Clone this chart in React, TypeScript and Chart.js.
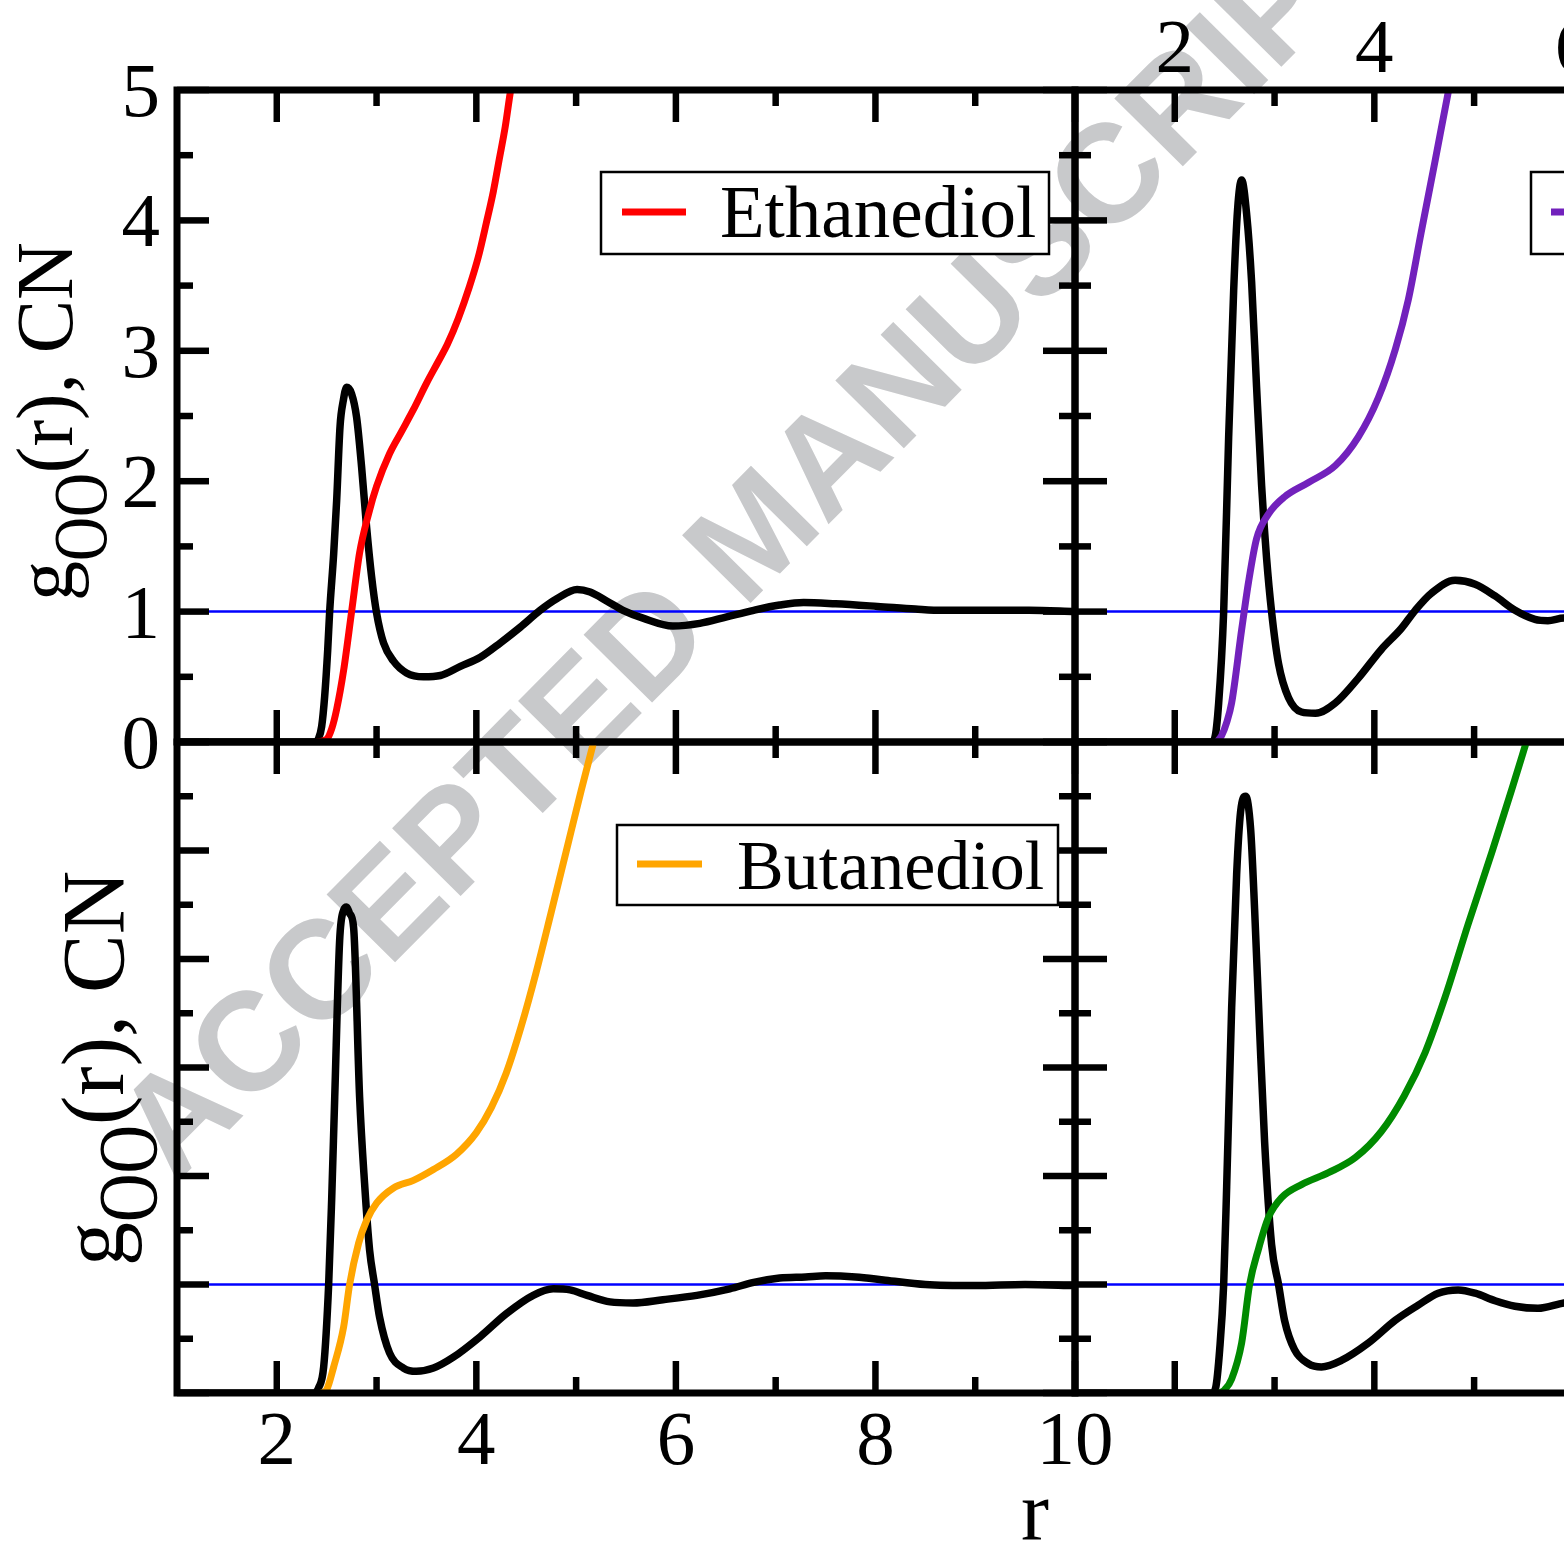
import React, { useEffect, useRef } from "react";
import { Chart, registerables } from "chart.js";

Chart.register(...registerables);

// ---------------- data ----------------
// Ethanediol (top-left)
const ETH_G_R = [1.0, 2.38, 2.42, 2.45, 2.48, 2.51, 2.53, 2.57, 2.6, 2.634, 2.667, 2.7, 2.75, 2.8, 2.85, 2.9, 2.95, 3.0, 3.07, 3.17, 3.3, 3.47, 3.64, 3.84, 4.04, 4.24, 4.44, 4.64, 4.81, 5.01, 5.14, 5.31, 5.47, 5.67, 5.97, 6.24, 6.51, 6.78, 7.04, 7.28, 7.6, 8.02, 8.4, 8.67, 9.1, 9.54, 10.0];
const ETH_G_V = [0, 0, 0.03, 0.12, 0.35, 0.7, 1.0, 1.44, 1.85, 2.42, 2.62, 2.72, 2.67, 2.49, 2.11, 1.65, 1.27, 0.99, 0.76, 0.62, 0.53, 0.5, 0.51, 0.58, 0.65, 0.76, 0.88, 1.01, 1.1, 1.17, 1.15, 1.08, 1.01, 0.95, 0.89, 0.91, 0.96, 1.01, 1.05, 1.07, 1.06, 1.04, 1.02, 1.01, 1.01, 1.01, 1.0];
const ETH_CN_R = [2.4, 2.5, 2.55, 2.6, 2.67, 2.75, 2.83, 2.92, 3.0, 3.13, 3.25, 3.37, 3.5, 3.62, 3.71, 3.82, 3.93, 4.02, 4.1, 4.17, 4.23, 4.29, 4.34, 4.4];
const ETH_CN_V = [0, 0.02, 0.1, 0.25, 0.55, 1.0, 1.45, 1.75, 1.96, 2.21, 2.38, 2.55, 2.75, 2.92, 3.05, 3.25, 3.49, 3.72, 3.98, 4.22, 4.47, 4.72, 4.98, 5.25];

// Propanediol (top-right)
const PRO_G_R = [1.0, 2.36, 2.4, 2.44, 2.49, 2.54, 2.59, 2.63, 2.67, 2.72, 2.77, 2.82, 2.87, 2.92, 2.97, 3.04, 3.14, 3.27, 3.41, 3.61, 3.84, 4.07, 4.27, 4.41, 4.57, 4.81, 5.01, 5.21, 5.41, 5.61, 5.74, 5.9, 6.0];
const PRO_G_V = [0, 0, 0.03, 0.3, 1.0, 2.34, 3.46, 4.09, 4.31, 4.05, 3.53, 2.72, 1.97, 1.41, 1.0, 0.6, 0.34, 0.23, 0.22, 0.3, 0.49, 0.71, 0.87, 1.01, 1.14, 1.24, 1.21, 1.12, 1.01, 0.94, 0.93, 0.95, 0.95];
const PRO_CN_R = [2.42, 2.47, 2.52, 2.57, 2.67, 2.74, 2.82, 2.94, 3.1, 3.34, 3.61, 3.84, 4.04, 4.21, 4.34, 4.47, 4.61, 4.74, 4.8];
const PRO_CN_V = [0, 0.05, 0.15, 0.3, 0.86, 1.23, 1.56, 1.75, 1.88, 1.99, 2.12, 2.34, 2.64, 3.01, 3.39, 3.91, 4.46, 4.98, 5.2];

// Butanediol (bottom-left)
const BUT_G_R = [1.0, 2.37, 2.42, 2.47, 2.52, 2.55, 2.58, 2.63, 2.67, 2.7, 2.73, 2.77, 2.83, 2.88, 2.93, 2.98, 3.03, 3.13, 3.27, 3.4, 3.57, 3.77, 4.04, 4.3, 4.57, 4.77, 4.94, 5.11, 5.34, 5.57, 5.87, 6.21, 6.54, 6.78, 7.04, 7.3, 7.5, 7.8, 8.1, 8.5, 9.0, 9.5, 10.0];
const BUT_G_V = [0, 0, 0.05, 0.24, 1.0, 1.78, 2.7, 4.17, 4.45, 4.48, 4.42, 4.29, 2.73, 1.93, 1.32, 1.0, 0.7, 0.37, 0.23, 0.2, 0.23, 0.33, 0.52, 0.73, 0.9, 0.96, 0.95, 0.9, 0.84, 0.83, 0.86, 0.9, 0.96, 1.02, 1.06, 1.07, 1.08, 1.07, 1.04, 1.0, 0.99, 1.0, 0.99];
const BUT_CN_R = [2.45, 2.5, 2.57, 2.67, 2.73, 2.82, 2.9, 3.0, 3.17, 3.37, 3.57, 3.8, 4.0, 4.15, 4.3, 4.45, 4.6, 4.75, 4.9, 5.05, 5.19];
const BUT_CN_V = [0, 0.03, 0.24, 0.61, 1.0, 1.38, 1.59, 1.75, 1.89, 1.96, 2.06, 2.2, 2.4, 2.63, 2.95, 3.38, 3.88, 4.43, 4.99, 5.55, 6.05];

// bottom-right
const PEN_G_R = [1.0, 2.37, 2.41, 2.45, 2.49, 2.52, 2.57, 2.62, 2.66, 2.71, 2.76, 2.8, 2.85, 2.9, 2.97, 3.04, 3.1, 3.2, 3.34, 3.47, 3.67, 3.94, 4.21, 4.44, 4.64, 4.84, 5.01, 5.21, 5.41, 5.64, 5.9, 6.0];
const PEN_G_V = [0, 0, 0.05, 0.4, 1.0, 1.9, 3.55, 4.78, 5.36, 5.5, 5.2, 4.46, 3.35, 2.32, 1.37, 1.0, 0.67, 0.4, 0.27, 0.24, 0.3, 0.46, 0.67, 0.81, 0.92, 0.95, 0.92, 0.85, 0.8, 0.78, 0.83, 0.84];
const PEN_CN_R = [2.45, 2.5, 2.57, 2.67, 2.75, 2.84, 2.94, 3.07, 3.27, 3.54, 3.81, 4.07, 4.3, 4.51, 4.71, 4.94, 5.18, 5.38, 5.53];
const PEN_CN_V = [0, 0.03, 0.13, 0.46, 1.0, 1.33, 1.62, 1.8, 1.92, 2.03, 2.17, 2.41, 2.74, 3.14, 3.65, 4.32, 4.99, 5.57, 6.02];

// reference line g = 1
const REF_R = [1, 10];
const REF_V = [1, 1];

// ticks
const X_MAJOR = [2, 4, 6, 8, 10];
const X_MINOR = [3, 5, 7, 9];
const Y_MAJOR_TOP = [0, 1, 2, 3, 4, 5];
const Y_MINOR_TOP = [0.5, 1.5, 2.5, 3.5, 4.5];
const Y_MAJOR_BOT = [0, 1, 2, 3, 4, 5, 6];
const Y_MINOR_BOT = [0.5, 1.5, 2.5, 3.5, 4.5, 5.5];
const X_TICK_LABELS = ["2", "4", "6", "8", "10"];
const Y_TICK_LABELS = ["0", "1", "2", "3", "4", "5"];

const WATERMARK = "ACCEPTED MANUSCRIPT";

// ---------------- drawing ----------------
const W = 2000;
const H = 1549;
const SERIF = '"Liberation Serif", "Times New Roman", serif';

const pts = (r: number[], v: number[]) => r.map((x, i) => ({ x, y: v[i] }));

const decoPlugin = {
  id: "deco",
  beforeDraw(chart: any, _a: any, o: any) {
    if (!o.watermark) return;
    const ctx = chart.ctx;
    ctx.save();
    ctx.translate(752, 530);
    ctx.rotate((-45.3 * Math.PI) / 180);
    ctx.font = 'bold 140px "Liberation Sans", Arial, sans-serif';
    ctx.fillStyle = "rgb(200,201,203)";
    ctx.textAlign = "center";
    ctx.textBaseline = "alphabetic";
    ctx.fillText(WATERMARK, 0, 0.36 * 140);
    ctx.restore();
  },
  afterDraw(chart: any, _a: any, o: any) {
    const ctx = chart.ctx;
    const ca = chart.chartArea;
    const xs = chart.scales.x;
    const ys = chart.scales.y;
    ctx.save();
    ctx.strokeStyle = "#000";
    ctx.fillStyle = "#000";
    ctx.lineCap = "butt";
    const seg = (x1: number, y1: number, x2: number, y2: number) => {
      ctx.beginPath();
      ctx.moveTo(x1, y1);
      ctx.lineTo(x2, y2);
      ctx.stroke();
    };
    ctx.lineWidth = 6.5;
    const xt = (vals: number[], len: number) => {
      for (const v of vals) {
        const p = xs.getPixelForValue(v);
        seg(p, ca.bottom, p, ca.bottom - len);
        seg(p, ca.top, p, ca.top + len);
      }
    };
    const yt = (vals: number[], len: number) => {
      for (const v of vals) {
        const p = ys.getPixelForValue(v);
        seg(ca.left, p, ca.left + len, p);
        seg(ca.right, p, ca.right - len, p);
      }
    };
    xt(X_MAJOR, 32);
    xt(X_MINOR, 16);
    yt(o.yMajor, 32);
    yt(o.yMinor, 16);
    // frame
    ctx.lineWidth = 7;
    ctx.strokeRect(ca.left, ca.top, ca.right - ca.left, ca.bottom - ca.top);

    // tick labels
    ctx.font = `77px ${SERIF}`;
    ctx.textBaseline = "alphabetic";
    if (o.yLabels) {
      ctx.textAlign = "right";
      Y_TICK_LABELS.forEach((t, i) => {
        const p = ys.getPixelForValue(Y_MAJOR_TOP[i]);
        ctx.fillText(t, ca.left - 17, p + 26);
      });
    }
    if (o.xTopLabels) {
      ctx.textAlign = "center";
      X_TICK_LABELS.forEach((t, i) => {
        ctx.fillText(t, xs.getPixelForValue(X_MAJOR[i]), ca.top - 18);
      });
    }
    if (o.xBottomLabels) {
      ctx.textAlign = "center";
      X_TICK_LABELS.forEach((t, i) => {
        ctx.fillText(t, xs.getPixelForValue(X_MAJOR[i]), ca.bottom + 71);
      });
    }
    if (o.xTitle) {
      ctx.font = `84px ${SERIF}`;
      ctx.textAlign = "center";
      ctx.fillText(o.xTitle.text, o.xTitle.x, o.xTitle.y);
    }
    // y title  g_OO(r), CN
    if (o.yTitle) {
      const t = o.yTitle;
      ctx.save();
      ctx.translate(t.x, t.y);
      ctx.rotate(-Math.PI / 2);
      ctx.textAlign = "left";
      ctx.font = `${t.size}px ${SERIF}`;
      ctx.fillText("g", 0, 0);
      let cx = ctx.measureText("g").width;
      ctx.save();
      ctx.font = `${t.sub}px ${SERIF}`;
      const sw = ctx.measureText("OO").width * t.squeeze;
      ctx.translate(cx, t.shift);
      ctx.scale(t.squeeze, 1);
      ctx.fillText("OO", 0, 0);
      ctx.restore();
      cx += sw;
      ctx.font = `${t.size}px ${SERIF}`;
      ctx.fillText("(r), CN", cx, 0);
      ctx.restore();
    }
    // legend
    if (o.legend) {
      const L = o.legend;
      ctx.fillStyle = "#fff";
      ctx.fillRect(L.box[0], L.box[1], L.box[2] - L.box[0], L.box[3] - L.box[1]);
      ctx.lineWidth = 2.5;
      ctx.strokeStyle = "#000";
      ctx.strokeRect(L.box[0], L.box[1], L.box[2] - L.box[0], L.box[3] - L.box[1]);
      ctx.strokeStyle = L.color;
      ctx.lineWidth = 7;
      seg(L.line[0], L.line[2], L.line[1], L.line[2]);
      ctx.fillStyle = "#000";
      ctx.font = `${L.size}px ${SERIF}`;
      ctx.textAlign = "left";
      ctx.fillText(L.text, L.tx, L.ty);
    }
    ctx.restore();
  },
};

const makeConfig = (p: any) => ({
  type: "line" as const,
  data: {
    datasets: [
      {
        data: pts(p.cnR, p.cnV),
        borderColor: p.color,
        borderWidth: 7,
        pointRadius: 0,
        cubicInterpolationMode: "monotone",
        clip: 0,
        order: 1,
      },
      {
        data: pts(p.gR, p.gV),
        borderColor: "#000",
        borderWidth: 7.5,
        pointRadius: 0,
        cubicInterpolationMode: "monotone",
        borderJoinStyle: "miter",
        clip: 0,
        order: 2,
      },
      {
        data: pts(REF_R, REF_V),
        borderColor: "#0000ff",
        borderWidth: 2.5,
        pointRadius: 0,
        clip: 0,
        order: 3,
      },
    ],
  },
  options: {
    responsive: false,
    animation: false,
    devicePixelRatio: 1,
    events: [],
    layout: { padding: { left: p.area[0], top: p.area[1], right: W - p.area[2], bottom: H - p.area[3] } },
    scales: {
      x: { type: "linear", min: 1, max: 10, display: false },
      y: { type: "linear", min: 0, max: p.yMax, display: false },
    },
    plugins: {
      legend: { display: false },
      tooltip: { enabled: false },
      deco: p.deco,
    },
  },
  plugins: [decoPlugin],
});

const PANELS = [
  {
    area: [177, 90, 1075, 742],
    yMax: 5,
    gR: ETH_G_R, gV: ETH_G_V, cnR: ETH_CN_R, cnV: ETH_CN_V,
    color: "#ff0000",
    deco: {
      watermark: true,
      yMajor: Y_MAJOR_TOP, yMinor: Y_MINOR_TOP,
      yLabels: true,
      yTitle: { x: 72, y: 601, size: 80, sub: 76, shift: 34, squeeze: 0.8 },
      legend: { text: "Ethanediol", color: "#ff0000", box: [601, 172, 1049, 254], line: [622, 686, 212], tx: 720, ty: 237, size: 73 },
    },
  },
  {
    area: [1075, 90, 1973, 742],
    yMax: 5,
    gR: PRO_G_R, gV: PRO_G_V, cnR: PRO_CN_R, cnV: PRO_CN_V,
    color: "#7221bc",
    deco: {
      yMajor: Y_MAJOR_TOP, yMinor: Y_MINOR_TOP,
      xTopLabels: true,
      legend: { text: "Propanediol", color: "#7221bc", box: [1531, 172, 1990, 254], line: [1551, 1615, 212], tx: 1650, ty: 237, size: 73 },
    },
  },
  {
    area: [177, 742, 1075, 1393],
    yMax: 6,
    gR: BUT_G_R, gV: BUT_G_V, cnR: BUT_CN_R, cnV: BUT_CN_V,
    color: "#ffa500",
    deco: {
      yMajor: Y_MAJOR_BOT, yMinor: Y_MINOR_BOT,
      xBottomLabels: true,
      xTitle: { text: "r", x: 1035, y: 1539 },
      yTitle: { x: 123, y: 1266, size: 88, sub: 84, shift: 34, squeeze: 0.8 },
      legend: { text: "Butanediol", color: "#ffa500", box: [617, 825, 1058, 905], line: [637, 702, 864], tx: 737, ty: 889, size: 70 },
    },
  },
  {
    area: [1075, 742, 1973, 1393],
    yMax: 6,
    gR: PEN_G_R, gV: PEN_G_V, cnR: PEN_CN_R, cnV: PEN_CN_V,
    color: "#008a00",
    deco: {
      yMajor: Y_MAJOR_BOT, yMinor: Y_MINOR_BOT,
    },
  },
];

export default function App() {
  const refs = useRef<(HTMLCanvasElement | null)[]>([]);
  useEffect(() => {
    const charts = PANELS.map((p, i) => new Chart(refs.current[i] as HTMLCanvasElement, makeConfig(p) as any));
    return () => charts.forEach((c) => c.destroy());
  }, []);
  return (
    <div style={{ position: "absolute", left: 0, top: 0, width: 1564, height: 1549, overflow: "hidden", background: "#fff" }}>
      {PANELS.map((_, i) => (
        <canvas
          key={i}
          ref={(el) => { refs.current[i] = el; }}
          width={W}
          height={H}
          style={{ position: "absolute", left: 0, top: 0, width: W, height: H, pointerEvents: "none" }}
        />
      ))}
    </div>
  );
}
